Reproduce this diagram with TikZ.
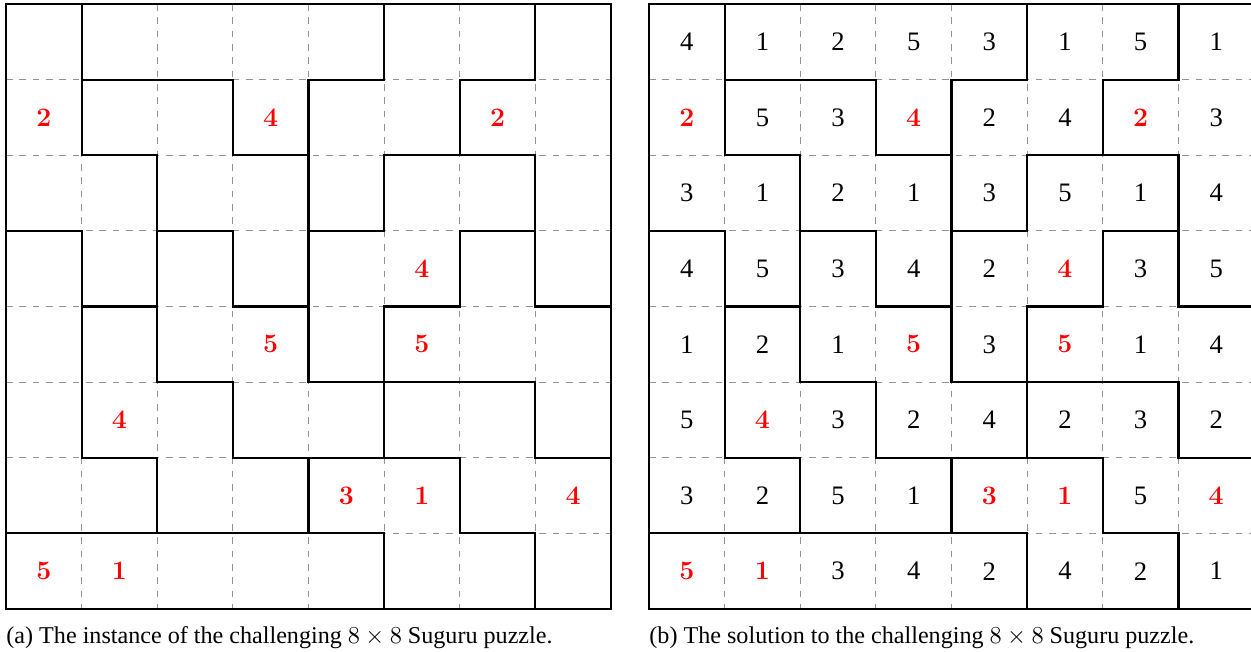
\documentclass[tikz,border=0pt]{standalone}
\usepackage[no-math]{fontspec}
\setmainfont{Liberation Serif}
\begin{document}
\newcommand\regmap{{1,2,2,2,2,4,4,5, 1,3,3,2,4,4,5,5, 1,1,3,3,4,6,6,5, 7,1,8,3,6,6,10,5, 7,9,8,8,6,10,10,10, 7,9,9,8,8,11,11,10, 7,7,9,9,12,12,11,11, 13,13,13,13,13,12,12,11}}
\newcommand\solmap{{4,1,2,5,3,1,5,1, 2,5,3,4,2,4,2,3, 3,1,2,1,3,5,1,4, 4,5,3,4,2,4,3,5, 1,2,1,5,3,5,1,4, 5,4,3,2,4,2,3,2, 3,2,5,1,3,1,5,4, 5,1,3,4,2,4,2,1}}
\newcommand\givmap{{0,0,0,0,0,0,0,0, 1,0,0,1,0,0,1,0, 0,0,0,0,0,0,0,0, 0,0,0,0,0,1,0,0, 0,0,0,1,0,1,0,0, 0,1,0,0,0,0,0,0, 0,0,0,0,1,1,0,1, 1,1,0,0,0,0,0,0}}
\newcommand\cs{75.625}
\newcommand\suguruboard[3]{% #1 x offset, #2 name prefix, #3 show solution (0/1)
  \begin{scope}[shift={(#1,4)}]
    \foreach \k in {1,...,7} {
      \draw[gridline] ({\k*\cs},0) -- ({\k*\cs},{8*\cs});
      \draw[gridline] (0,{\k*\cs}) -- ({8*\cs},{\k*\cs});
    }
    \draw[border] (0,0) rectangle ({8*\cs},{8*\cs});
    \foreach \i in {0,...,7} {
      \foreach \j in {0,...,6} {
        \pgfmathtruncatemacro\ra{\regmap[8*\i+\j]}
        \pgfmathtruncatemacro\rb{\regmap[8*\i+\j+1]}
        \ifnum\ra=\rb\relax\else
          \draw[regionline] ({(\j+1)*\cs},{\i*\cs}) -- ({(\j+1)*\cs},{(\i+1)*\cs});
        \fi
      }
    }
    \foreach \i in {0,...,6} {
      \foreach \j in {0,...,7} {
        \pgfmathtruncatemacro\ra{\regmap[8*\i+\j]}
        \pgfmathtruncatemacro\rb{\regmap[8*\i+\j+8]}
        \ifnum\ra=\rb\relax\else
          \draw[regionline] ({\j*\cs},{(\i+1)*\cs}) -- ({(\j+1)*\cs},{(\i+1)*\cs});
        \fi
      }
    }
    \foreach \i in {0,...,7} {
      \foreach \j in {0,...,7} {
        \pgfmathtruncatemacro\v{\solmap[8*\i+\j]}
        \pgfmathtruncatemacro\g{\givmap[8*\i+\j]}
        \ifnum\g=1
          \node[given] (#2-\i-\j) at ({(\j+0.5)*\cs},{(\i+0.5)*\cs}) {$\mathbf{\v}$};
        \else
          \ifnum#3=1
            \node[solved] (#2-\i-\j) at ({(\j+0.5)*\cs},{(\i+0.5)*\cs}) {\v};
          \fi
        \fi
      }
    }
  \end{scope}
}
\begin{tikzpicture}[x=0.45pt,y=-0.45pt,
  gridline/.style={draw=gray!85, dashed, line width=0.4pt},
  border/.style={draw=black, line width=0.6pt},
  regionline/.style={draw=black, line width=1pt, line cap=rect},
  given/.style={text=red, inner sep=0pt, font=\fontsize{11.5}{13}\selectfont},
  solved/.style={text=black, inner sep=0pt, font=\fontsize{12}{14}\selectfont},
  caption/.style={anchor=base west, inner sep=0pt, font=\fontsize{10.85}{13}\selectfont}]
  \useasboundingbox (0,0) rectangle (1251,652);
  \clip (0,0) rectangle (1251,652);
  \suguruboard{6}{L}{0}
  \suguruboard{649}{R}{1}
  \node[caption] (capa) at (6,643) {(a) The instance of the challenging $8\times 8$ Suguru puzzle.};
  \node[caption] (capb) at (649,643) {(b) The solution to the challenging $8\times 8$ Suguru puzzle.};
\end{tikzpicture}
\end{document}
